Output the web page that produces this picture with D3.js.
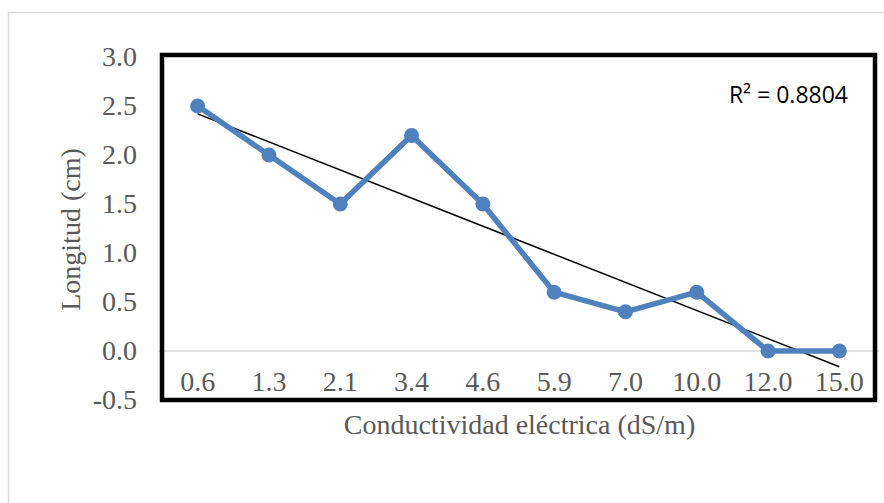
<!DOCTYPE html>
<html><head><meta charset="utf-8">
<script src="https://cdn.jsdelivr.net/npm/d3@7"></script>
<style>body{margin:0;background:#fff}svg{display:block}</style>
</head><body>
<svg id="c" width="884" height="503"></svg>
<script>
const categories = ["0.6","1.3","2.1","3.4","4.6","5.9","7.0","10.0","12.0","15.0"];
const values = [2.5, 2.0, 1.5, 2.2, 1.5, 0.6, 0.4, 0.6, 0.0, 0.0];
const yTicks = [-0.5, 0, 0.5, 1.0, 1.5, 2.0, 2.5, 3.0];
const r2Label = "R² = 0.8804";
const xTitle = "Conductividad eléctrica (dS/m)";
const yTitle = "Longitud (cm)";

const svg = d3.select("#c");
const L = 162, R = 875, T = 57, B = 400;
const serif = "'Liberation Serif', 'Times New Roman', serif";

svg.append("rect").attr("x",8.5).attr("y",12.5).attr("width",890).attr("height",500)
  .attr("fill","#fff").attr("stroke","#d9d9d9").attr("stroke-width",1.5);

const x = d3.scaleBand().domain(categories).range([L, R]).padding(0);
const y = d3.scaleLinear().domain([-0.5, 3.0]).range([B, T]);
const cx = c => x(c) + x.bandwidth()/2;

// zero line
svg.append("line").attr("x1",L-4).attr("x2",R+4).attr("y1",y(0)).attr("y2",y(0))
  .attr("stroke","#d9d9d9").attr("stroke-width",1.5);

// y-axis labels
const yAxis = d3.axisLeft(y).tickValues(yTicks).tickFormat(d => d.toFixed(1)).tickSize(0).tickPadding(25);
const gy = svg.append("g").attr("transform",`translate(${L},0)`).call(yAxis);
gy.select(".domain").remove();
gy.selectAll("text").attr("font-family",serif).attr("font-size",28).attr("fill","#595959");

// x-axis labels just below zero line
const xAxis = d3.axisBottom(x).tickSize(0).tickPadding(20);
const gx = svg.append("g").attr("transform",`translate(0,${y(0)})`).call(xAxis);
gx.select(".domain").remove();
gx.selectAll("text").attr("font-family",serif).attr("font-size",28).attr("fill","#595959");

// trendline via least squares on category index
const n = values.length;
const xs = values.map((_,i)=>i+1);
const mx = d3.mean(xs), my = d3.mean(values);
const slope = d3.sum(xs.map((xi,i)=>(xi-mx)*(values[i]-my))) / d3.sum(xs.map(xi=>(xi-mx)**2));
const icpt = my - slope*mx;
svg.append("line")
  .attr("x1",cx(categories[0])).attr("y1",y(icpt+slope*1))
  .attr("x2",cx(categories[n-1])).attr("y2",y(icpt+slope*n))
  .attr("stroke","#000").attr("stroke-width",1.5);

// series line
const line = d3.line().x((d,i)=>cx(categories[i])).y(d=>y(d));
svg.append("path").datum(values).attr("d",line).attr("fill","none")
  .attr("stroke","#4f81bd").attr("stroke-width",5.5).attr("stroke-linejoin","round");
svg.selectAll("circle.m").data(values).enter().append("circle")
  .attr("cx",(d,i)=>cx(categories[i])).attr("cy",d=>y(d)).attr("r",7.5).attr("fill","#4f81bd");

// plot border
svg.append("rect").attr("x",L).attr("y",T-2).attr("width",R-L).attr("height",B-T+2)
  .attr("fill","none").attr("stroke","#000").attr("stroke-width",4.5);

// R² label
svg.append("text").attr("x",848).attr("y",103).attr("text-anchor","end")
  .attr("font-family","'Open Sans', Carlito, Calibri, sans-serif").attr("font-size",23)
  .attr("fill","#000").text(r2Label);

// axis titles
svg.append("text").attr("x",(L+R)/2 + 1).attr("y",434).attr("text-anchor","middle")
  .attr("font-family",serif).attr("font-size",28).attr("fill","#595959").text(xTitle);
svg.append("text").attr("transform",`translate(80,${(T+B)/2 + 1}) rotate(-90)`).attr("text-anchor","middle")
  .attr("font-family",serif).attr("font-size",28).attr("fill","#595959").text(yTitle);
</script>
</body></html>
